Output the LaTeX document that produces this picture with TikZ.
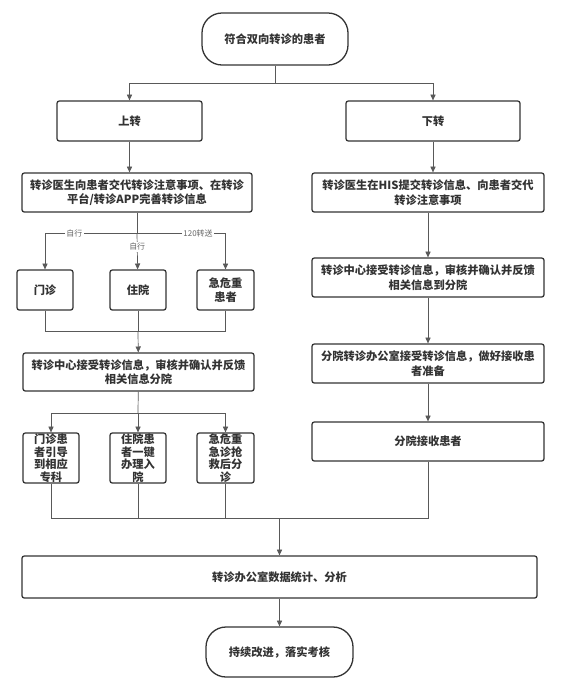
\documentclass[tikz,border=0pt]{standalone}
\usepackage{fontspec}
\newfontfamily\cjk{Noto Sans CJK SC}
\usetikzlibrary{arrows.meta}

\begin{document}
\begin{tikzpicture}[x=0.03cm,y=-0.03cm,color=black!65,line width=0.6pt,
  box/.style={draw=black!80,line width=1.1pt,rounded corners=2pt,fill=white,
    align=center,inner sep=0pt,font=\cjk\bfseries\fontsize{9.6}{12.4}\selectfont,text=black!80},
  term/.style={box,rounded corners=0.6cm},
  tall/.style={box,minimum width=1.68cm,minimum height=1.5cm,
    font=\cjk\bfseries\fontsize{9.6}{10.7}\selectfont},
  lbl/.style={fill=white,inner sep=1pt,font=\cjk\fontsize{6.8}{8}\selectfont,text=black!60},
  >={Triangle[length=5pt,width=4.5pt]}]
  \useasboundingbox (0,0) rectangle (561,693);
  % top
  \node[term,minimum width=4.38cm,minimum height=1.56cm] (Start) at (275,39) {符合双向转诊的患者};
  \node[box,minimum width=4.35cm,minimum height=1.2cm] (Up)   at (129.5,121) {上转};
  \node[box,minimum width=5.22cm,minimum height=1.2cm] (Down) at (433,121)   {下转};
  \node[box,minimum width=6.9cm,minimum height=1.17cm]  (UpInfo)   at (137,192.5) {转诊医生向患者交代转诊注意事项、在转诊\\平台/转诊APP完善转诊信息};
  \node[box,minimum width=6.96cm,minimum height=1.17cm] (DownInfo) at (428,192.5) {转诊医生在HIS提交转诊信息、向患者交代\\转诊注意事项};
  % left column
  \node[box,minimum width=1.68cm,minimum height=1.2cm] (OPD)  at (45,290)    {门诊};
  \node[box,minimum width=1.68cm,minimum height=1.2cm] (Ward) at (138,290)   {住院};
  \node[box,minimum width=1.71cm,minimum height=1.2cm] (Crit) at (225.5,290) {急危重\\患者};
  \node[box,minimum width=6.93cm,minimum height=1.14cm] (UpCtr) at (138.5,372) {转诊中心接受转诊信息，审核并确认并反馈\\相关信息分院};
  \node[tall] (Guide)  at (51,458)    {门诊患\\者引导\\到相应\\专科};
  \node[tall] (Admit)  at (138,458)   {住院患\\者一键\\办理入\\院};
  \node[tall,minimum width=1.71cm] (Rescue) at (225.5,458) {急危重\\急诊抢\\救后分\\诊};
  % right column
  \node[box,minimum width=6.96cm,minimum height=1.17cm] (DownCtr) at (428,277.5) {转诊中心接受转诊信息，审核并确认并反馈\\相关信息到分院};
  \node[box,minimum width=6.96cm,minimum height=1.17cm] (Prep)    at (428,363.5) {分院转诊办公室接受转诊信息，做好接收患\\者准备};
  \node[box,minimum width=6.96cm,minimum height=1.17cm] (Recv)    at (428,441.5) {分院接收患者};
  % bottom
  \node[box,minimum width=15.45cm,minimum height=1.26cm] (Stat) at (279.5,577) {转诊办公室数据统计、分析};
  \node[term,minimum width=4.41cm,minimum height=1.5cm] (End) at (279.5,652) {持续改进，落实考核};
  \coordinate (J0) at (275,83);
  \coordinate (J1) at (137,233);
  \coordinate (J2) at (138,331);
  \coordinate (J3) at (138,413);
  \coordinate (J4) at (279.5,518);
  \draw (Start) -- (J0);
  \draw[->] (J0) -| (Up);
  \draw[->] (J0) -| (Down);
  \draw[->] (Up) -- (Up |- UpInfo.north);
  \draw[->] (Down) -- (Down |- DownInfo.north);
  \draw (UpInfo) -- (J1);
  \draw[->] (J1) -| node[lbl,pos=0.34]{自行} (OPD);
  \draw[->] (J1) -- node[lbl,pos=0.38]{自行} (Ward);
  \draw[->] (J1) -| node[lbl,pos=0.345]{120转送} (Crit);
  \draw (OPD) |- (J2); \draw (Ward) -- (J2); \draw (Crit) |- (J2);
  \draw[->] (J2) -- (UpCtr);
  \draw (UpCtr) -- (J3);
  \draw[->] (J3) -| (Guide); \draw[->] (J3) -- (Admit); \draw[->] (J3) -| (Rescue);
  \draw[->] (DownInfo) -- (DownCtr);
  \draw[->] (DownCtr) -- (Prep);
  \draw[->] (Prep) -- (Recv);
  \draw (Guide) |- (J4); \draw (Admit) |- (J4); \draw (Rescue) |- (J4); \draw (Recv) |- (J4);
  \draw[->] (J4) -- (Stat);
  \draw[->] (Stat) -- (End);
\end{tikzpicture}
\end{document}
